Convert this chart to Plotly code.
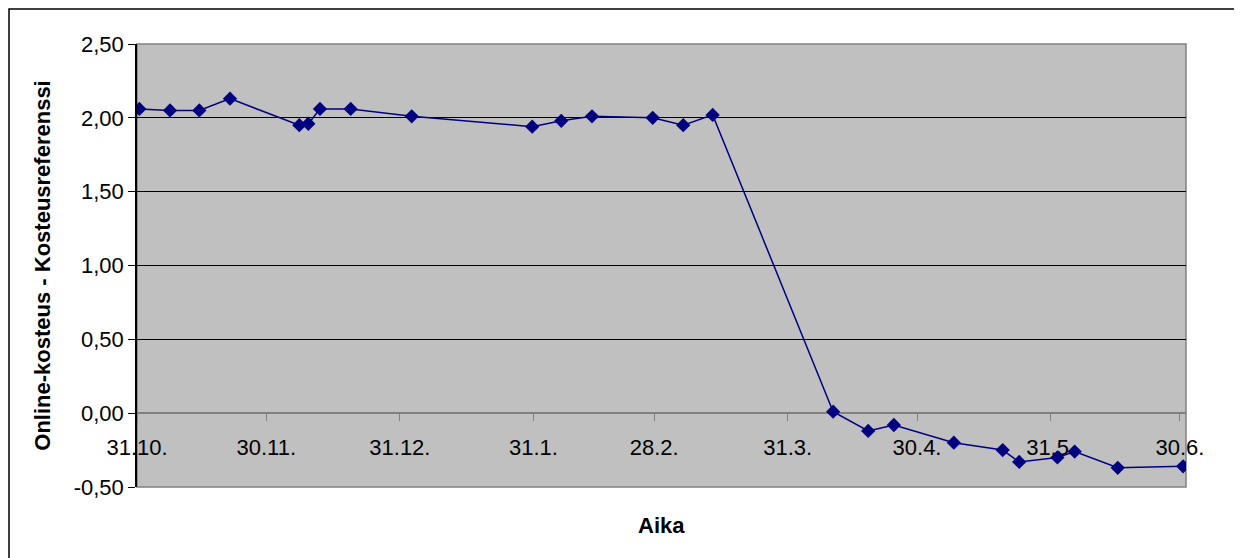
import plotly.graph_objects as go

# Data
dates = [
    "2006-10-31 13:00", "2006-11-07 16:00", "2006-11-14 11:00", "2006-11-21 14:00",
    "2006-12-07 16:00", "2006-12-09 18:00", "2006-12-12 11:00", "2006-12-19 14:00",
    "2007-01-02 18:00", "2007-01-30 17:00", "2007-02-06 11:00", "2007-02-13 14:00",
    "2007-02-27 16:00", "2007-03-06 18:00", "2007-03-13 14:00", "2007-04-10 13:00",
    "2007-04-18 16:00", "2007-04-24 15:00", "2007-05-08 13:00", "2007-05-19 21:00",
    "2007-05-23 17:00", "2007-06-01 14:00", "2007-06-05 14:00", "2007-06-15 14:00",
    "2007-06-30 18:00",
]
values = [
    2.06, 2.05, 2.05, 2.13,
    1.95, 1.96, 2.06, 2.06,
    2.01, 1.94, 1.98, 2.01,
    2.00, 1.95, 2.02, 0.01,
    -0.12, -0.08, -0.20, -0.25,
    -0.33, -0.30, -0.26, -0.37,
    -0.36,
]

x_tick_vals = ["2006-10-31", "2006-11-30", "2006-12-31", "2007-01-31", "2007-02-28",
               "2007-03-31", "2007-04-30", "2007-05-31", "2007-06-30"]
x_tick_text = ["31.10.", "30.11.", "31.12.", "31.1.", "28.2.", "31.3.", "30.4.", "31.5.", "30.6."]
y_tick_vals = [-0.5, 0.0, 0.5, 1.0, 1.5, 2.0, 2.5]
y_tick_text = ["-0,50", "0,00", "0,50", "1,00", "1,50", "2,00", "2,50"]

x_title = "Aika"
y_title = "Online-kosteus - Kosteusreferenssi"

FONT = "Liberation Sans, Arial, sans-serif"
NAVY = "#000080"
FS = 22

fig = go.Figure()
fig.add_trace(go.Scatter(
    x=dates, y=values, mode="lines+markers",
    line=dict(color=NAVY, width=1.5),
    marker=dict(symbol="diamond", size=11, color=NAVY),
    showlegend=False,
))

# page body has an 8px margin, so the figure is drawn offset by (8, 8)
OFF = 8
W, H = 1242 - OFF, 558 - OFF
ml, mr, mt, mb = 137 - OFF, 56, 44 - OFF, 71
pw, ph = W - ml - mr, H - mt - mb

def px_x(p):  # p in page pixels
    return (p - OFF - ml) / pw

def px_y(p):
    return (H - mb - (p - OFF)) / ph

fig.update_layout(
    width=W, height=H,
    margin=dict(l=ml, r=mr, t=mt, b=mb, pad=0),
    paper_bgcolor="white",
    plot_bgcolor="#C0C0C0",
    font=dict(family=FONT, size=FS, color="black"),
    xaxis=dict(
        type="date",
        range=["2006-10-31 00:00", "2007-07-01 10:00"],
        tickvals=x_tick_vals, ticktext=x_tick_text,
        showgrid=False, zeroline=False,
        anchor="free", position=1 / 6,
        showline=True, linecolor="#808080", linewidth=1.5,
        ticks="outside", ticklen=7, tickcolor="#808080", tickwidth=1,
        ticklabelstandoff=8,
        tickfont=dict(family=FONT, size=FS, color="black"),
        layer="below traces",
    ),
    yaxis=dict(
        range=[-0.5, 2.5],
        tickvals=y_tick_vals, ticktext=y_tick_text,
        showgrid=True, gridcolor="black", gridwidth=1,
        zeroline=False,
        showline=True, linecolor="black", linewidth=1.5,
        ticks="outside", ticklen=7, tickcolor="black", tickwidth=1,
        tickfont=dict(family=FONT, size=FS, color="black"),
        title=dict(text="<b>" + y_title + "</b>", font=dict(family=FONT, size=FS, color="black"), standoff=17),
    ),
    shapes=[
        # plot area border
        dict(type="rect", xref="paper", yref="paper", x0=0, x1=1, y0=0, y1=1,
             line=dict(color="#808080", width=1.5), fillcolor="rgba(0,0,0,0)", layer="between"),
        # outer chart border
        dict(type="rect", xref="paper", yref="paper",
             x0=px_x(9), x1=px_x(1235), y0=px_y(566), y1=px_y(9),
             line=dict(color="black", width=1.5), fillcolor="rgba(0,0,0,0)", layer="above"),
    ],
    annotations=[
        dict(text="<b>" + x_title + "</b>", xref="paper", yref="paper",
             x=0.5, y=px_y(525), xanchor="center", yanchor="middle",
             showarrow=False, font=dict(family=FONT, size=FS, color="black")),
    ],
)

fig.write_html("out.html")
